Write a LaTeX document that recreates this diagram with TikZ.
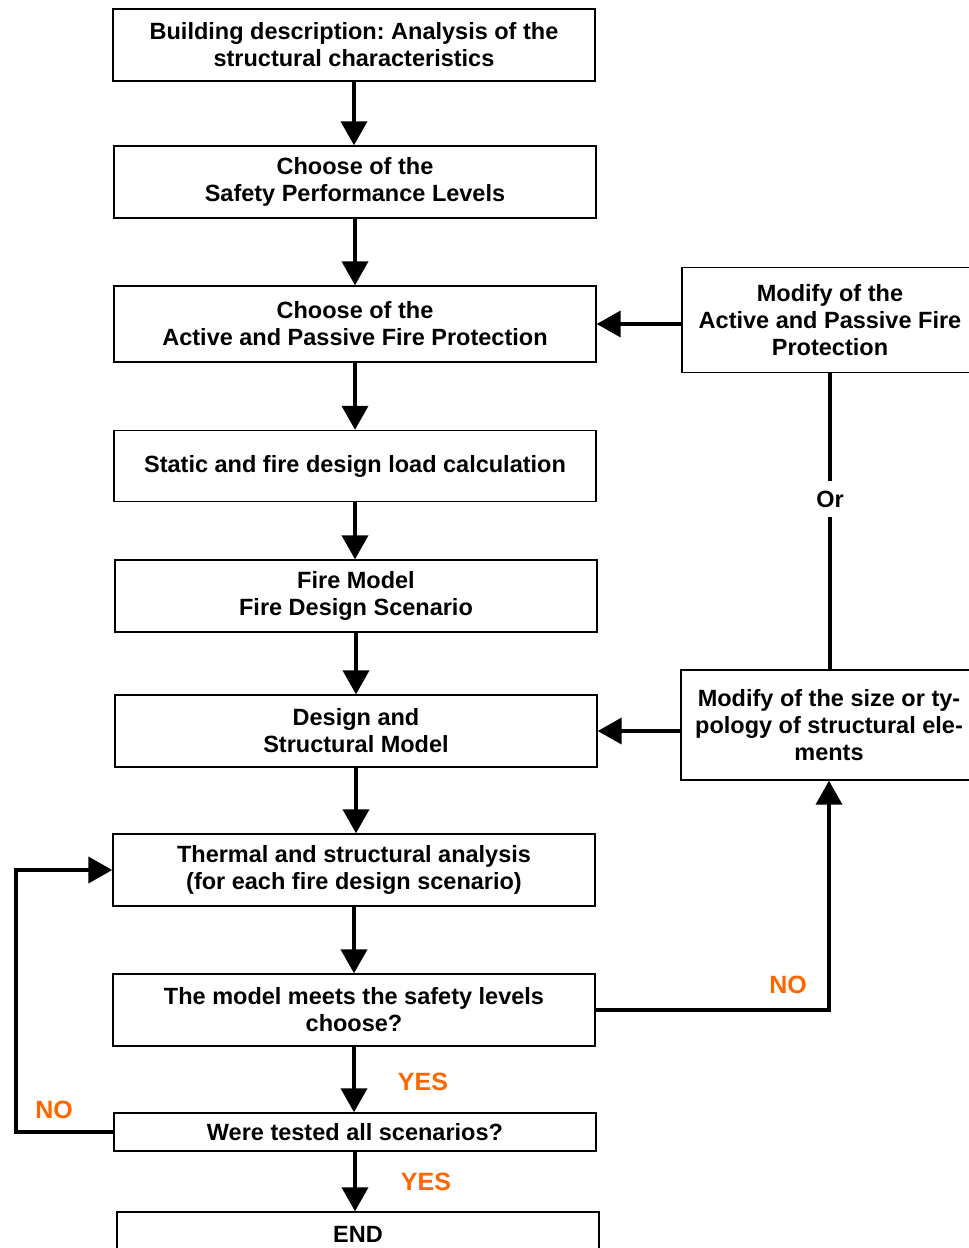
\documentclass[tikz,border=0pt]{standalone}
\usepackage{fontspec}
\setmainfont{Liberation Sans}
\usetikzlibrary{arrows.meta}
\definecolor{noorange}{RGB}{255,102,0}
\frenchspacing
\tikzset{
    box/.style={draw, line width=1.4pt, minimum width=482pt, minimum height=72pt, align=center, inner sep=2pt},
    sidebox/.style={draw, line width=1.4pt, minimum width=296pt, align=center, inner sep=2pt},
    arr/.style={line width=4pt, -{Triangle[length=24pt,width=26pt]}},
    link/.style={line width=4pt},
    answer/.style={text=noorange, font=\fontsize{25}{28}\selectfont\bfseries}
}
\begin{document}
\begin{tikzpicture}[x=1pt, y=-1pt, font=\fontsize{23.5}{27}\selectfont\bfseries]
        \useasboundingbox (0,0) rectangle (969,1248);

        % main column
        \node[box] (desc) at (354,45) {Building description: Analysis of the\\structural characteristics};
        \node[box] (levels) at (355,182) {Choose of the\\Safety Performance Levels};
        \node[box, minimum height=76pt] (protect) at (355,324) {Choose of the\\Active and Passive Fire Protection};
        \node[box, minimum height=71pt] (load) at (355,466) {Static and fire design load calculation};
        \node[box] (firemod) at (356,596) {Fire Model\\Fire Design Scenario};
        \node[box] (design) at (356,731) {Design and\\Structural Model};
        \node[box] (thermal) at (354,870) {Thermal and structural analysis\\(for each fire design scenario)};
        \node[box] (meets) at (354,1010) {The model meets the safety levels\\choose?};
        \node[box, minimum height=38pt] (tested) at (355,1132) {Were tested all scenarios?};
        \node[box, minimum height=44pt] (end) at (358,1234) {END};

        % side boxes
        \node[sidebox, minimum height=105pt] (modprot) at (830,320) {Modify of the\\Active and Passive Fire\\Protection};
        \node[sidebox, minimum height=110pt] (modsize) at (829,725) {Modify of the size or ty-\\pology of structural ele-\\ments};
        \node[inner sep=9pt] (or) at (830,499) {Or};

        % arrows
        \draw[arr] (desc) -- (desc |- levels.north);
        \draw[arr] (levels) -- (levels |- protect.north);
        \draw[arr] (protect) -- (protect |- load.north);
        \draw[arr] (load) -- (load |- firemod.north);
        \draw[arr] (firemod) -- (firemod |- design.north);
        \draw[arr] (design) -- (design |- thermal.north);
        \draw[arr] (thermal) -- (thermal |- meets.north);
        \draw[arr] (meets) -- (meets |- tested.north);
        \draw[arr] (tested) -- (tested |- end.north);

        \draw[arr] (modprot.west |- protect.east) -- (protect.east);
        \draw[arr] (modsize.west |- design.east) -- (design.east);
        \draw[link] (modprot) -- (or);
        \draw[link] (or) -- (or |- modsize.north);
        \draw[arr] (meets.east) -| (modsize.south);

        \coordinate (back) at (16,1132);
        \draw[arr] (tested.west) -- (back) |- (thermal.west);

        % labels
        \node[answer] (no1) at (788,985) {NO};
        \node[answer] (yes1) at (423,1082) {YES};
        \node[answer] (yes2) at (426,1182) {YES};
        \node[answer] (no2) at (54,1110) {NO};
\end{tikzpicture}
\end{document}
